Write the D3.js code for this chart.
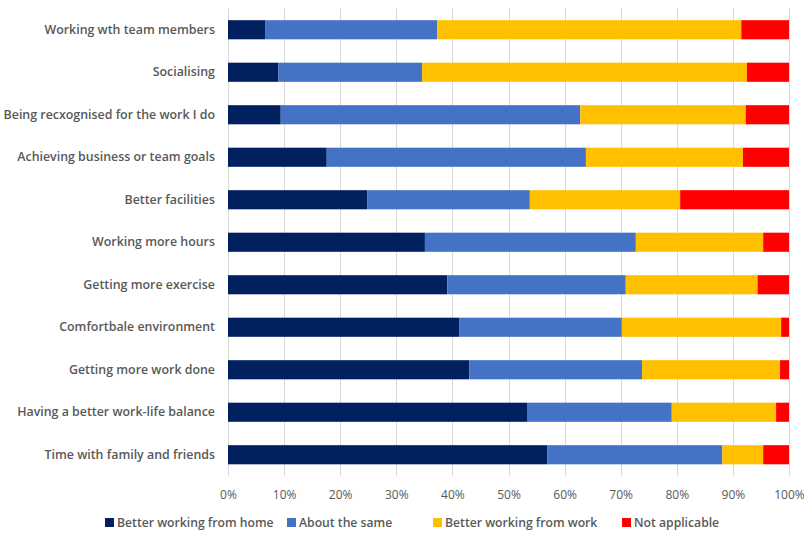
<!DOCTYPE html>
<html>
<head>
<meta charset="utf-8">
<script src="https://cdn.jsdelivr.net/npm/d3@7/dist/d3.min.js"></script>
<style>
  html, body { margin: 0; padding: 0; background: #fff; }
  svg { display: block; }
  text { font-family: "Open Sans", "Noto Sans", sans-serif; }
</style>
</head>
<body>
<svg id="chart" width="804" height="534"></svg>
<script>
// Survey statements, top to bottom
const categories = [
  "Working wth team members",
  "Socialising",
  "Being recxognised for the work I do",
  "Achieving business or team goals",
  "Better facilities",
  "Working more hours",
  "Getting more exercise",
  "Comfortbale environment",
  "Getting more work done",
  "Having a better work-life balance",
  "Time with family and friends"
];

// Response shares (%) per statement, one array per answer
const seriesNames = ["Better working from home", "About the same", "Better working from work", "Not applicable"];
const betterFromHome = [6.7, 9.0, 9.4, 17.6, 24.8, 35.1, 39.1, 41.2, 43.0, 53.3, 56.9];
const aboutTheSame   = [30.6, 25.6, 53.4, 46.2, 29.0, 37.6, 31.8, 29.0, 30.8, 25.8, 31.2];
const betterFromWork = [54.2, 57.9, 29.5, 28.0, 26.8, 22.7, 23.5, 28.4, 24.6, 18.6, 7.3];
const notApplicable  = [8.5, 7.5, 7.7, 8.2, 19.4, 4.6, 5.6, 1.4, 1.6, 2.3, 4.6];

const tickValues = [0, 10, 20, 30, 40, 50, 60, 70, 80, 90, 100];
const colors = ["#002060", "#4472C4", "#FFC000", "#FF0000"];

const rows = categories.map((c, i) => ({
  category: c,
  [seriesNames[0]]: betterFromHome[i],
  [seriesNames[1]]: aboutTheSame[i],
  [seriesNames[2]]: betterFromWork[i],
  [seriesNames[3]]: notApplicable[i]
}));

const svg = d3.select("#chart");
const margin = { left: 228, right: 15, top: 8, bottom: 58 };
const width = 804, height = 534;

const x = d3.scaleLinear().domain([0, 100]).range([margin.left, width - margin.right]);
const y = d3.scaleBand().domain(categories).range([margin.top + 0.5, height - margin.bottom]).paddingInner(0.55).paddingOuter(0.275);
const color = d3.scaleOrdinal().domain(seriesNames).range(colors);

// Vertical gridlines
svg.append("g")
  .selectAll("line")
  .data(tickValues)
  .join("line")
  .attr("x1", d => Math.round(x(d)) + 0.5)
  .attr("x2", d => Math.round(x(d)) + 0.5)
  .attr("y1", margin.top)
  .attr("y2", height - margin.bottom)
  .attr("stroke", "#d9d9d9")
  .attr("stroke-width", 1);

// Stacked bars
const stacked = d3.stack().keys(seriesNames)(rows);
svg.append("g")
  .selectAll("g")
  .data(stacked)
  .join("g")
  .attr("fill", d => color(d.key))
  .selectAll("rect")
  .data(d => d)
  .join("rect")
  .attr("x", d => x(d[0]))
  .attr("width", d => x(d[1]) - x(d[0]))
  .attr("y", d => y(d.data.category))
  .attr("height", y.bandwidth());

// Category labels
const yAxis = svg.append("g")
  .attr("transform", `translate(${margin.left},0)`)
  .call(d3.axisLeft(y).tickSize(0).tickPadding(13));
yAxis.select(".domain").remove();
yAxis.selectAll("text")
  .attr("font-family", "Open Sans, sans-serif")
  .attr("font-size", 12.4)
  .attr("font-weight", 600)
  .attr("fill", "#595959");

// Percentage axis
const xAxis = svg.append("g")
  .attr("transform", `translate(0,${height - margin.bottom})`)
  .call(d3.axisBottom(x).tickValues(tickValues).tickFormat(d => d + "%").tickSize(0).tickPadding(14));
xAxis.select(".domain").remove();
xAxis.selectAll("text")
  .attr("font-family", "Open Sans, sans-serif")
  .attr("font-size", 12)
  .attr("fill", "#595959");

// Legend
const legendX = [105, 287, 433, 622];
const legend = svg.append("g").attr("transform", "translate(0,527)");
const items = legend.selectAll("g")
  .data(seriesNames)
  .join("g")
  .attr("transform", (d, i) => `translate(${legendX[i]},0)`);
items.append("rect")
  .attr("x", 0).attr("y", -9)
  .attr("width", 9).attr("height", 9)
  .attr("fill", d => color(d));
items.append("text")
  .attr("x", 12)
  .attr("y", 0)
  .attr("font-size", 12.2)
  .attr("font-weight", 600)
  .attr("fill", "#595959")
  .text(d => d);
</script>
</body>
</html>
